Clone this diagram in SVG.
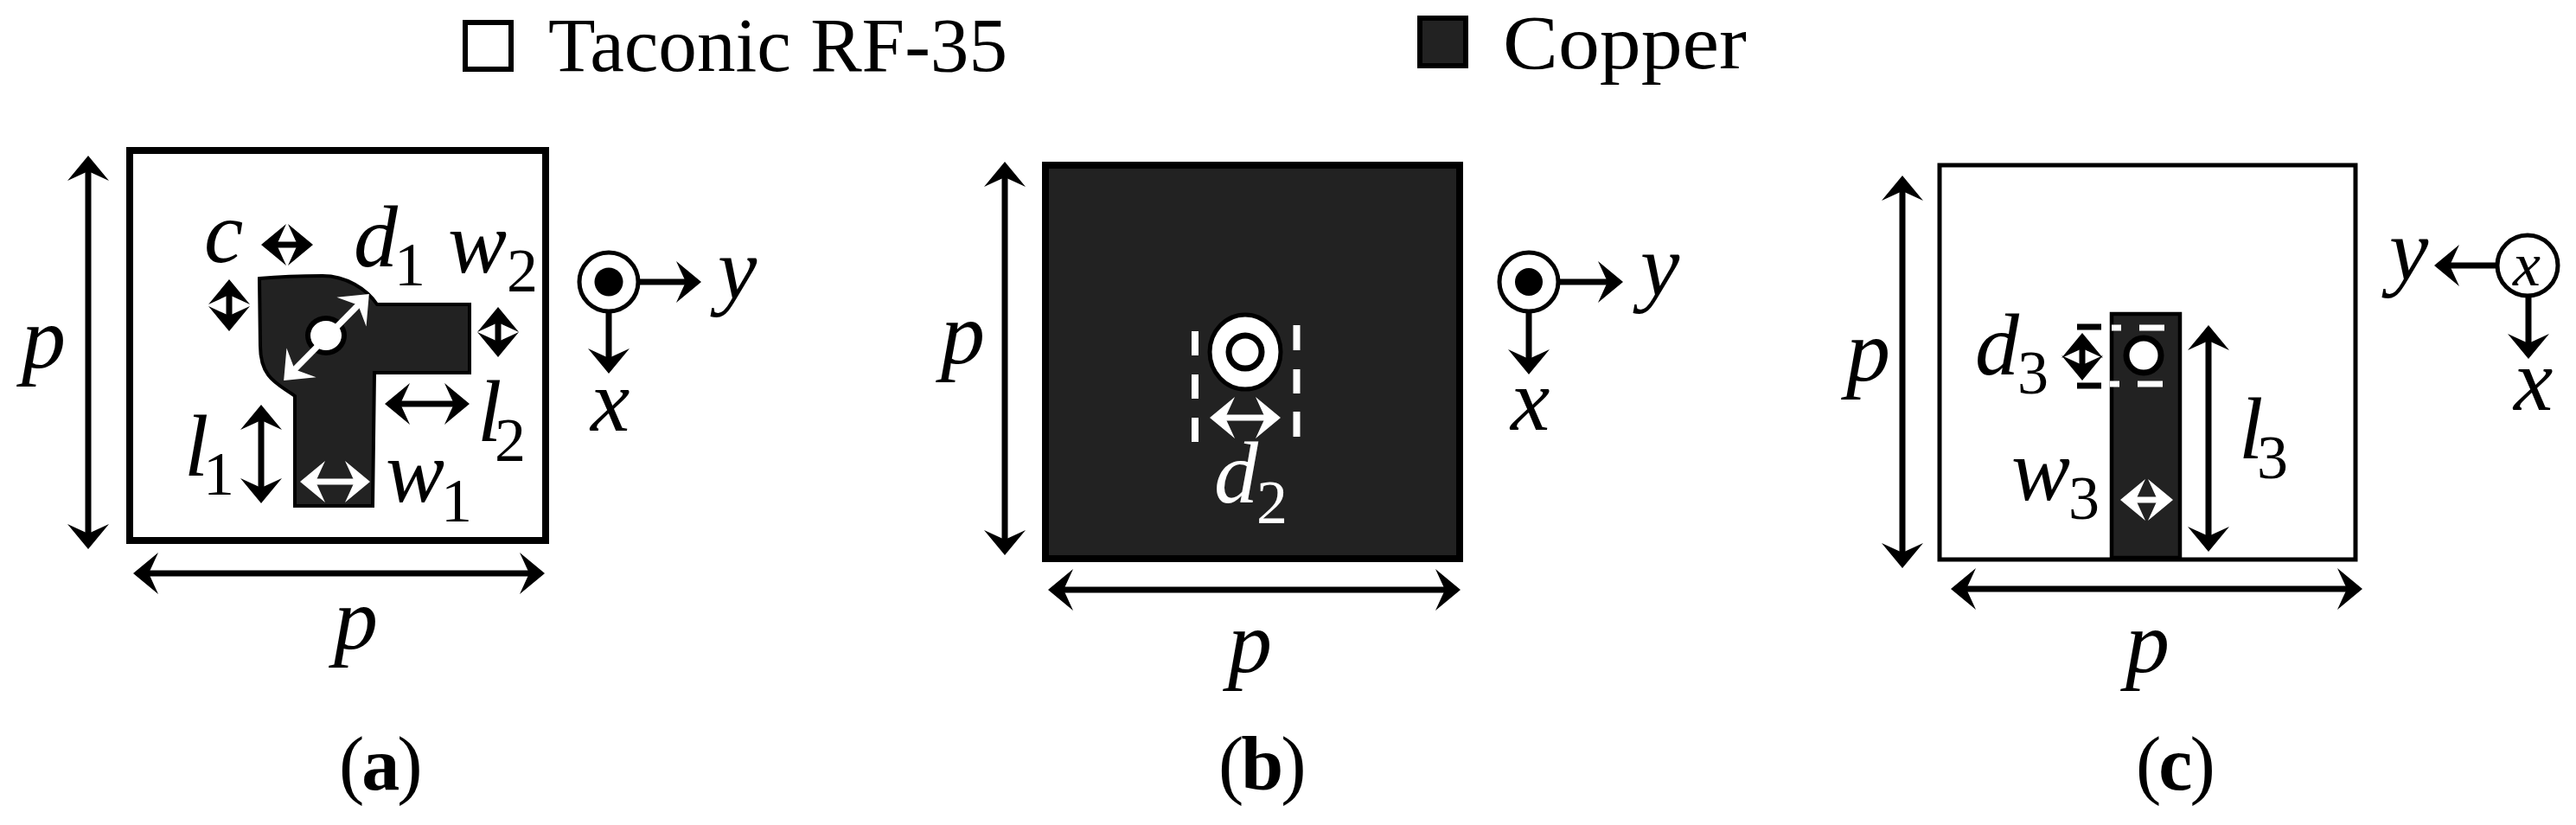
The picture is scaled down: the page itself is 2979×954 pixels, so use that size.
<svg xmlns="http://www.w3.org/2000/svg" width="2979" height="954" viewBox="0 0 2979 954">
<style>
text{font-family:"Liberation Serif","Times New Roman",serif;fill:#000}
.v{font-style:italic;font-size:102px}
.s{font-size:72px;font-style:normal}
.w{fill:#fff}
.leg{font-size:89px}
.cap{font-size:88px;letter-spacing:-3px}
.cap tspan{font-weight:bold}
.sub{fill:#fff;stroke:#000}
.cu{fill:#222;stroke:#000}
.k{fill:none;stroke:#000;stroke-width:7;marker-start:url(#hk);marker-end:url(#hk)}
.e{fill:none;stroke:#000;stroke-width:7;marker-end:url(#hk)}
.wa{fill:none;stroke:#fff;stroke-width:7;marker-start:url(#hw);marker-end:url(#hw)}
.dash{stroke:#fff;stroke-width:8;fill:none}
.kd{stroke:#000;stroke-width:7;fill:none}
</style>
<defs>
<marker id="hk" markerUnits="userSpaceOnUse" markerWidth="34" markerHeight="50" refX="16" refY="25" orient="auto-start-reverse"><path d="M30,25L1,1L12,25L1,49Z" fill="#000"/></marker>
<marker id="hw" markerUnits="userSpaceOnUse" markerWidth="34" markerHeight="50" refX="16" refY="25" orient="auto-start-reverse"><path d="M30,25L1,1L12,25L1,49Z" fill="#fff"/></marker>
</defs>
<rect width="2979" height="954" fill="#fff"/>

<g id="legend">
<rect class="sub" x="538" y="26" width="53" height="54" stroke-width="6"/>
<text class="leg" x="634" y="82" textLength="531" lengthAdjust="spacingAndGlyphs">Taconic RF-35</text>
<rect class="cu" x="1642" y="21" width="53" height="55" stroke-width="6"/>
<text class="leg" x="1738" y="79" textLength="282" lengthAdjust="spacingAndGlyphs">Copper</text>
</g>

<g id="panel-a">
<rect class="sub" x="150" y="174" width="481" height="451" stroke-width="8"/>
<path id="patch" class="cu" stroke-width="4" d="M300,322C322,320 350,319 373,319C400,319 424,334 436,352L543,352L543,431L433,431L431,585L341,585L341,458C322,444 301,438 301,400Z"/>
<ellipse cx="377" cy="388" rx="24" ry="23" fill="#000"/>
<ellipse cx="377" cy="388" rx="18" ry="17" fill="#fff"/>
<text class="v" x="236" y="303">c</text>
<text class="v" x="409" y="308">d<tspan class="s" x="456" y="330">1</tspan></text>
<text class="v" x="518" y="315">w<tspan class="s" x="586" y="337">2</tspan></text>
<text class="v" x="213" y="550">l<tspan class="s" x="235" y="572">1</tspan></text>
<text class="v" x="552" y="510">l<tspan class="s" x="572" y="533">2</tspan></text>
<text class="v" x="446" y="580">w<tspan class="s" x="510" y="603">1</tspan></text>
<text class="v" x="25" y="425">p</text>
<text class="v" x="386" y="750">p</text>
</g>
<g id="axes-a">
<circle class="sub" cx="704" cy="326" r="34" stroke-width="5"/>
<circle cx="704" cy="326" r="16.500" fill="#000"/>
<text class="v" x="830" y="345">y</text>
<text class="v" x="683" y="498">x</text>
</g>

<g id="panel-b">
<rect class="cu" x="1209" y="191" width="479" height="455" stroke-width="8"/>
<ellipse class="sub" cx="1440" cy="407" rx="41" ry="43" stroke-width="5"/>
<circle cx="1440" cy="407" r="19" fill="#fff" stroke="#000" stroke-width="7"/>
<path class="dash" d="M1382,383V411M1382,433V461M1382,483V511M1499.500,376V405M1499.500,427V455M1499.500,476V505"/>
<text class="v w" x="1404" y="581">d<tspan class="s w" x="1453" y="605">2</tspan></text>
<text class="v" x="1088" y="420">p</text>
<text class="v" x="1420" y="777">p</text>
</g>
<g id="axes-b">
<circle class="sub" cx="1768" cy="326" r="34" stroke-width="5"/>
<circle cx="1768" cy="326" r="16" fill="#000"/>
<text class="v" x="1897" y="341">y</text>
<text class="v" x="1747" y="497">x</text>
</g>

<g id="panel-c">
<rect class="sub" x="2243" y="191" width="481" height="456" stroke-width="5"/>
<rect class="cu" x="2442" y="363" width="79" height="282" stroke-width="4.500"/>
<circle cx="2479" cy="411" r="20" fill="#fff" stroke="#000" stroke-width="7"/>
<path class="dash" style="stroke-width:7" d="M2442,379H2453M2474,379H2503M2440,444H2451M2472,444H2501"/>
<path class="kd" d="M2402,378H2430M2402,446H2430"/>
<text class="v" x="2284" y="433">d<tspan class="s" x="2333" y="455">3</tspan></text>
<text class="v" x="2326" y="578">w<tspan class="s" x="2392" y="600">3</tspan></text>
<text class="v" x="2589" y="530">l<tspan class="s" x="2610" y="553">3</tspan></text>
<text class="v" x="2135" y="440">p</text>
<text class="v" x="2458" y="777">p</text>
</g>
<g id="axes-c">
<circle class="sub" cx="2923" cy="307" r="35" stroke-width="5"/>
<text x="2906" y="330" style="font-size:72px;font-style:italic">x</text>
<text class="v" x="2763" y="323">y</text>
<text class="v" x="2907" y="474">x</text>
</g>

<g id="connectors">
<line class="k" x1="102" y1="194" x2="102" y2="621"/>
<line class="k" x1="168" y1="663" x2="616" y2="663"/>
<line class="k" x1="316" y1="283" x2="348" y2="283"/>
<line class="k" x1="265" y1="337" x2="265" y2="369"/>
<line class="k" x1="576" y1="369" x2="576" y2="399"/>
<line class="k" x1="459" y1="467" x2="529" y2="467"/>
<line class="k" x1="302" y1="482" x2="302" y2="568"/>
<line class="wa" x1="361" y1="557" x2="414" y2="557"/>
<line class="wa" x1="338" y1="430" x2="417" y2="350"/>
<line class="e" x1="738" y1="326" x2="797" y2="326"/>
<line class="e" x1="704" y1="358" x2="704" y2="418"/>

<line class="k" x1="1162" y1="201" x2="1162" y2="628"/>
<line class="k" x1="1226" y1="682" x2="1675" y2="682"/>
<line class="wa" x1="1413" y1="483" x2="1467" y2="483"/>
<line class="e" x1="1802" y1="326" x2="1863" y2="326"/>
<line class="e" x1="1768" y1="358" x2="1768" y2="419"/>

<line class="k" x1="2200" y1="217" x2="2200" y2="643"/>
<line class="k" x1="2270" y1="681" x2="2718" y2="681"/>
<line class="k" x1="2408" y1="399" x2="2408" y2="426"/>
<line class="wa" x1="2466" y1="578" x2="2499" y2="578"/>
<line class="k" x1="2554" y1="390" x2="2554" y2="624"/>
<line class="e" x1="2888" y1="307" x2="2829" y2="307"/>
<line class="e" x1="2924" y1="341" x2="2924" y2="401"/>
</g>

<g id="captions">
<text class="cap" x="392" y="913">(<tspan>a</tspan>)</text>
<text class="cap" x="1409" y="913">(<tspan>b</tspan>)</text>
<text class="cap" x="2470" y="913">(<tspan>c</tspan>)</text>
</g>
</svg>
